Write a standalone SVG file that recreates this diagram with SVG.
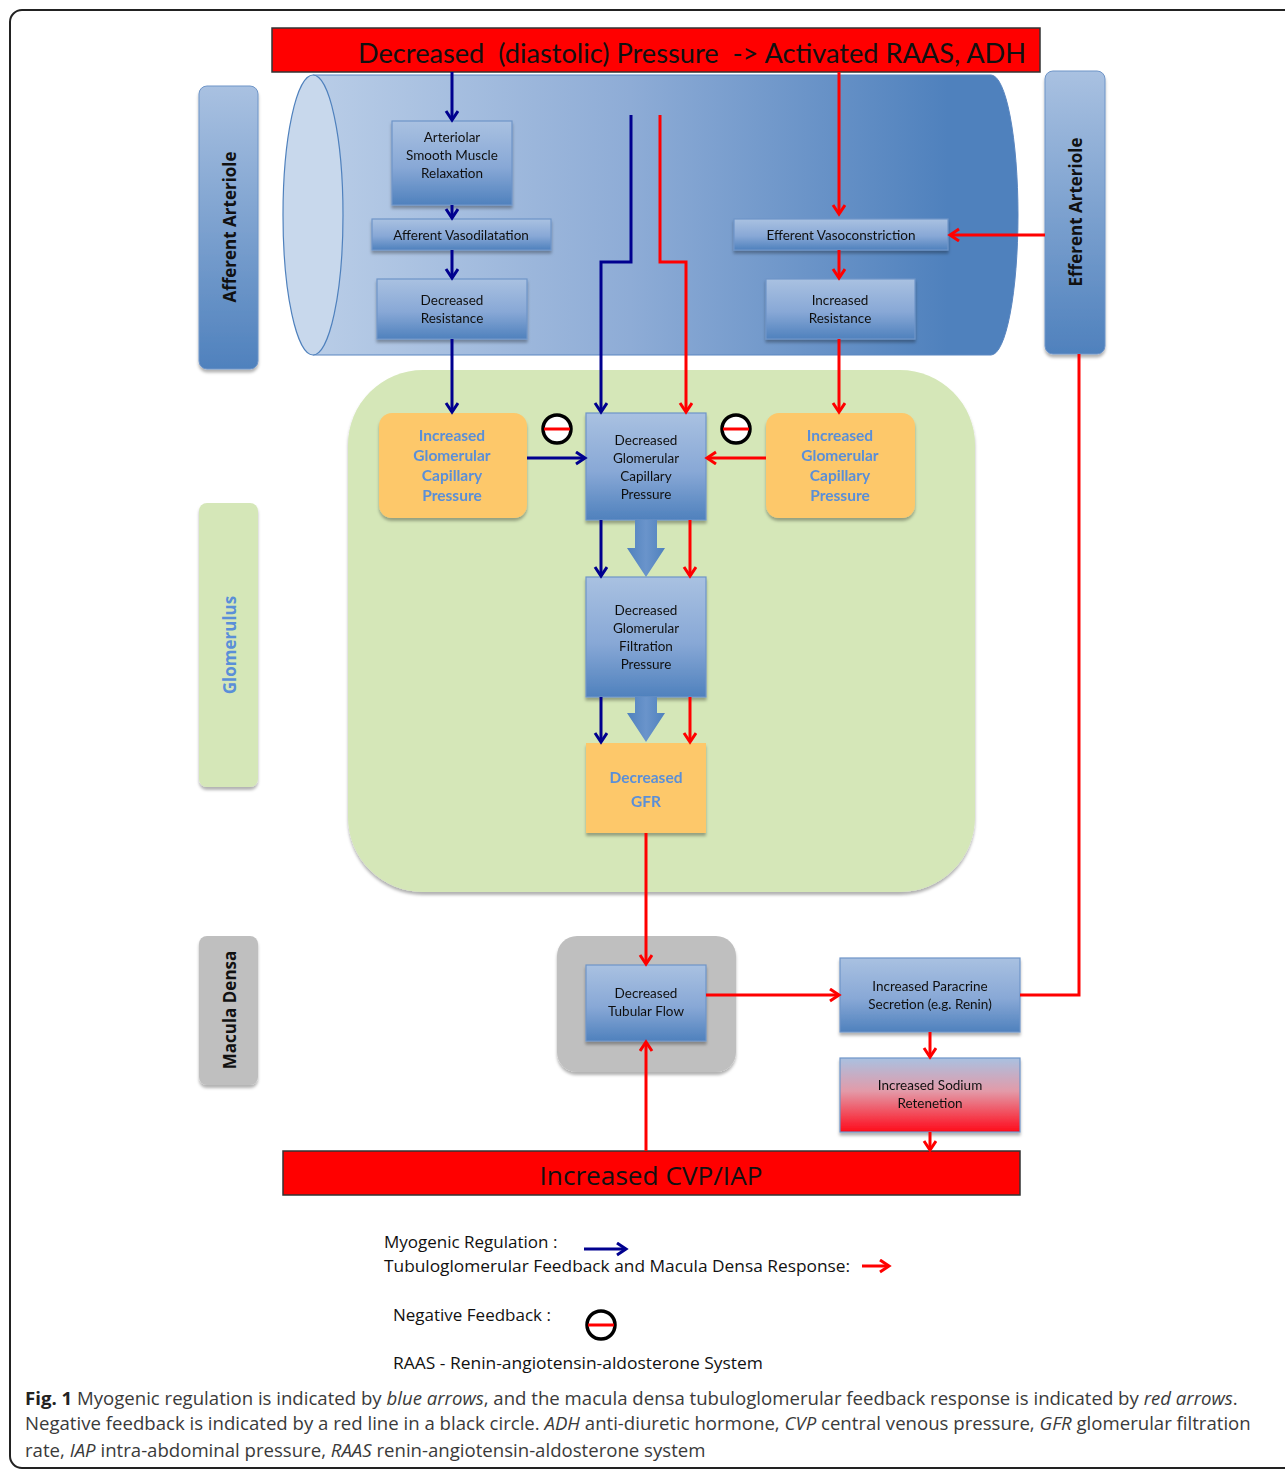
<svg xmlns="http://www.w3.org/2000/svg" width="1285" height="1470" viewBox="0 0 1285 1470">
<defs>
<style>
.node{font-family:Lato,"Open Sans","Liberation Sans",sans-serif;font-size:13.5px;fill:#111;text-anchor:middle}
.onode{font-family:Lato,"Open Sans","Liberation Sans",sans-serif;font-size:15.5px;font-weight:bold;fill:#5a8fd8;text-anchor:middle}
.side{font-family:"Open Sans","Liberation Sans",sans-serif;font-size:17px;font-weight:bold;text-anchor:middle}
.leg{font-family:"Open Sans",Lato,"Liberation Sans",sans-serif;font-size:17px;fill:#111}
.cap{font-family:"Open Sans","Liberation Sans",sans-serif;font-size:18.6px;fill:#3a3a3a}
.bl{stroke:#00008f;stroke-width:3;fill:none}
.rd{stroke:#ff0000;stroke-width:3;fill:none}
.bbox{fill:url(#gBlue);stroke:#6f95c8;stroke-width:1.2}
</style>
<linearGradient id="gBlue" x1="0" y1="0" x2="0" y2="1">
<stop offset="0" stop-color="#a9c1e1"/><stop offset="0.55" stop-color="#88a8d6"/><stop offset="1" stop-color="#4f81bd"/>
</linearGradient>
<linearGradient id="gSide" x1="0" y1="0" x2="0" y2="1">
<stop offset="0" stop-color="#a9c1e1"/><stop offset="1" stop-color="#4f81bd"/>
</linearGradient>
<linearGradient id="gCyl" x1="0" y1="0" x2="1" y2="0">
<stop offset="0" stop-color="#b9cde7"/><stop offset="0.45" stop-color="#8eacd6"/><stop offset="0.9" stop-color="#4f81bd"/><stop offset="1" stop-color="#4f81bd"/>
</linearGradient>
<linearGradient id="gSod" x1="0" y1="0" x2="0" y2="1">
<stop offset="0" stop-color="#a9c1e1"/><stop offset="0.45" stop-color="#e39aa8"/><stop offset="1" stop-color="#ff0a1a"/>
</linearGradient>
<linearGradient id="gBlk" x1="0" y1="0" x2="1" y2="0">
<stop offset="0" stop-color="#4f81bd"/><stop offset="0.5" stop-color="#6a94cb"/><stop offset="1" stop-color="#4f81bd"/>
</linearGradient>
<filter id="sh" x="-10%" y="-10%" width="120%" height="130%">
<feDropShadow dx="0" dy="3" stdDeviation="1.5" flood-color="#000" flood-opacity="0.3"/>
</filter>
<marker id="ab" markerUnits="userSpaceOnUse" markerWidth="16" markerHeight="16" refX="11" refY="7" orient="auto">
<path d="M2,1 L11,7 L2,13" fill="none" stroke="#00008f" stroke-width="3"/>
</marker>
<marker id="ar" markerUnits="userSpaceOnUse" markerWidth="16" markerHeight="16" refX="11" refY="7" orient="auto">
<path d="M2,1 L11,7 L2,13" fill="none" stroke="#ff0000" stroke-width="3"/>
</marker>
<g id="inh">
<circle r="14" fill="#fff" stroke="#000" stroke-width="3.5"/>
<line x1="-13" y1="0" x2="13" y2="0" stroke="#ff0000" stroke-width="3"/>
</g>
</defs>

<rect x="0" y="0" width="1285" height="1470" fill="#fff"/>
<rect x="10" y="10" width="1300" height="1458" rx="12" fill="none" stroke="#222" stroke-width="2"/>

<!-- background regions -->
<g id="cylinder">
<path d="M313,75 H991 A27,140 0 0 1 991,355 H313 Z" fill="url(#gCyl)" stroke="#5a86c0" stroke-width="1"/>
<ellipse cx="313" cy="215" rx="30" ry="140" fill="#c8d8ec" stroke="#4f81bd" stroke-width="1.2"/>
</g>
<g id="glomerulus-area">
<rect x="348" y="370" width="627" height="522" rx="75" fill="#d5e7b8" filter="url(#sh)"/>
</g>
<g id="macula-area">
<rect x="557" y="936" width="179" height="136" rx="20" fill="#bfbfbf" filter="url(#sh)"/>
</g>

<!-- side labels -->
<g id="afferent-arteriole">
<rect x="199" y="86" width="59" height="283" rx="8" fill="url(#gSide)" stroke="#6f95c8" filter="url(#sh)"/>
<text class="side" transform="translate(236,227) rotate(-90)" fill="#111">Afferent Arteriole</text>
</g>
<g id="efferent-arteriole">
<rect x="1045" y="71" width="60" height="283" rx="8" fill="url(#gSide)" stroke="#6f95c8" filter="url(#sh)"/>
<text class="side" transform="translate(1082,212) rotate(-90)" fill="#111">Efferent Arteriole</text>
</g>
<g id="glomerulus-label">
<rect x="199" y="503" width="59" height="284" rx="8" fill="#d5e7b8" filter="url(#sh)"/>
<text class="side" transform="translate(236,645) rotate(-90)" fill="#5a8fd8">Glomerulus</text>
</g>
<g id="macula-densa-label">
<rect x="199" y="936" width="59" height="149" rx="8" fill="#bfbfbf" filter="url(#sh)"/>
<text class="side" transform="translate(236,1010) rotate(-90)" fill="#111">Macula Densa</text>
</g>

<!-- top and bottom bars -->
<g id="top-bar">
<rect x="272" y="28" width="768" height="44" fill="#ff0000" stroke="#333" stroke-width="1.5"/>
<text x="358" y="63" xml:space="preserve" font-family="Lato,'Open Sans','Liberation Sans',sans-serif" font-size="27" fill="#111" textLength="668" lengthAdjust="spacingAndGlyphs">Decreased  (diastolic) Pressure  -&gt; Activated RAAS, ADH</text>
</g>
<g id="bottom-bar">
<rect x="283" y="1151" width="737" height="44" fill="#ff0000" stroke="#333" stroke-width="1.5"/>
<text x="651" y="1185" text-anchor="middle" font-family="'Open Sans',Lato,'Liberation Sans',sans-serif" font-size="26" fill="#111" textLength="223" lengthAdjust="spacingAndGlyphs">Increased CVP/IAP</text>
</g>

<!-- nodes -->
<g id="n-smooth-muscle" filter="url(#sh)">
<rect class="bbox" x="392" y="121" width="120" height="84"/>
<text class="node" x="452" y="142">Arteriolar</text>
<text class="node" x="452" y="160">Smooth Muscle</text>
<text class="node" x="452" y="178">Relaxation</text>
</g>
<g id="n-aff-vasodil" filter="url(#sh)">
<rect class="bbox" x="372" y="219" width="179" height="31"/>
<text class="node" x="461" y="240">Afferent Vasodilatation</text>
</g>
<g id="n-dec-res" filter="url(#sh)">
<rect class="bbox" x="377" y="279" width="150" height="60"/>
<text class="node" x="452" y="305">Decreased</text>
<text class="node" x="452" y="323">Resistance</text>
</g>
<g id="n-eff-vasocon" filter="url(#sh)">
<rect class="bbox" x="734" y="219" width="214" height="31"/>
<text class="node" x="841" y="240">Efferent Vasoconstriction</text>
</g>
<g id="n-inc-res" filter="url(#sh)">
<rect class="bbox" x="766" y="279" width="149" height="60"/>
<text class="node" x="840" y="305">Increased</text>
<text class="node" x="840" y="323">Resistance</text>
</g>
<g id="n-inc-gcp-left" filter="url(#sh)">
<rect x="379" y="413" width="148" height="105" rx="13" fill="#fdc86b"/>
<text class="onode" x="452" y="441">Increased</text>
<text class="onode" x="452" y="461">Glomerular</text>
<text class="onode" x="452" y="481">Capillary</text>
<text class="onode" x="452" y="501">Pressure</text>
</g>
<g id="n-inc-gcp-right" filter="url(#sh)">
<rect x="766" y="413" width="149" height="105" rx="13" fill="#fdc86b"/>
<text class="onode" x="840" y="441">Increased</text>
<text class="onode" x="840" y="461">Glomerular</text>
<text class="onode" x="840" y="481">Capillary</text>
<text class="onode" x="840" y="501">Pressure</text>
</g>
<g id="n-dec-gcp" filter="url(#sh)">
<rect class="bbox" x="586" y="413" width="120" height="107"/>
<text class="node" x="646" y="445">Decreased</text>
<text class="node" x="646" y="463">Glomerular</text>
<text class="node" x="646" y="481">Capillary</text>
<text class="node" x="646" y="499">Pressure</text>
</g>
<g id="n-dec-gfp" filter="url(#sh)">
<rect class="bbox" x="586" y="577" width="120" height="120"/>
<text class="node" x="646" y="615">Decreased</text>
<text class="node" x="646" y="633">Glomerular</text>
<text class="node" x="646" y="651">Filtration</text>
<text class="node" x="646" y="669">Pressure</text>
</g>
<g id="n-dec-gfr" filter="url(#sh)">
<rect x="586" y="743" width="120" height="90" fill="#fdc86b"/>
<text class="onode" x="646" y="783" font-size="18.5">Decreased</text>
<text class="onode" x="646" y="807" font-size="18.5">GFR</text>
</g>
<g id="n-dec-tub" filter="url(#sh)">
<rect class="bbox" x="586" y="965" width="120" height="76"/>
<text class="node" x="646" y="998">Decreased</text>
<text class="node" x="646" y="1016">Tubular Flow</text>
</g>
<g id="n-paracrine" filter="url(#sh)">
<rect class="bbox" x="840" y="958" width="180" height="74"/>
<text class="node" x="930" y="991">Increased Paracrine</text>
<text class="node" x="930" y="1009">Secretion (e.g. Renin)</text>
</g>
<g id="n-sodium" filter="url(#sh)">
<rect x="840" y="1058" width="180" height="74" fill="url(#gSod)" stroke="#6f95c8" stroke-width="1.2"/>
<text class="node" x="930" y="1090">Increased Sodium</text>
<text class="node" x="930" y="1108">Retenetion</text>
</g>

<!-- connectors -->
<g id="connectors">
<path d="M635,520 V548 H627 L646,577 L665,548 H657 V520 Z" fill="url(#gBlk)"/>
<path d="M635,697 V713 H627 L646,742 L665,713 H657 V697 Z" fill="url(#gBlk)"/>

<line class="bl" x1="452" y1="72" x2="452" y2="120" marker-end="url(#ab)"/>
<line class="bl" x1="452" y1="205" x2="452" y2="218" marker-end="url(#ab)"/>
<line class="bl" x1="452" y1="250" x2="452" y2="278" marker-end="url(#ab)"/>
<line class="bl" x1="452" y1="339" x2="452" y2="412" marker-end="url(#ab)"/>
<path class="bl" d="M631,115 V262 H601 V412" marker-end="url(#ab)"/>
<path class="rd" d="M660,115 V262 H686 V412" marker-end="url(#ar)"/>
<line class="rd" x1="839" y1="72" x2="839" y2="214" marker-end="url(#ar)"/>
<line class="rd" x1="839" y1="250" x2="839" y2="278" marker-end="url(#ar)"/>
<line class="rd" x1="839" y1="339" x2="839" y2="412" marker-end="url(#ar)"/>
<line class="rd" x1="1045" y1="235" x2="950" y2="235" marker-end="url(#ar)"/>
<line class="bl" x1="527" y1="458" x2="585" y2="458" marker-end="url(#ab)"/>
<line class="rd" x1="766" y1="458" x2="707" y2="458" marker-end="url(#ar)"/>
<line class="bl" x1="601" y1="520" x2="601" y2="576" marker-end="url(#ab)"/>
<line class="rd" x1="690" y1="520" x2="690" y2="576" marker-end="url(#ar)"/>
<line class="bl" x1="601" y1="697" x2="601" y2="742" marker-end="url(#ab)"/>
<line class="rd" x1="690" y1="697" x2="690" y2="742" marker-end="url(#ar)"/>
<line class="rd" x1="646" y1="833" x2="646" y2="964" marker-end="url(#ar)"/>
<line class="rd" x1="706" y1="995" x2="839" y2="995" marker-end="url(#ar)"/>
<path class="rd" d="M1020,995 H1079 V354"/>
<line class="rd" x1="930" y1="1032" x2="930" y2="1057" marker-end="url(#ar)"/>
<line class="rd" x1="930" y1="1132" x2="930" y2="1150" marker-end="url(#ar)"/>
<line class="rd" x1="646" y1="1151" x2="646" y2="1042" marker-end="url(#ar)"/>
<use href="#inh" x="557" y="429"/>
<use href="#inh" x="736" y="429"/>
</g>

<!-- legend -->
<g id="legend">
<text class="leg" x="384" y="1248">Myogenic Regulation :</text>
<line class="bl" x1="584" y1="1249" x2="626" y2="1249" marker-end="url(#ab)"/>
<text class="leg" x="384" y="1272" textLength="466" lengthAdjust="spacingAndGlyphs">Tubuloglomerular Feedback and Macula Densa Response:</text>
<line class="rd" x1="862" y1="1266" x2="889" y2="1266" marker-end="url(#ar)"/>
<text class="leg" x="393" y="1321">Negative Feedback :</text>
<use href="#inh" x="601" y="1325"/>
<text class="leg" x="393" y="1369" textLength="370" lengthAdjust="spacingAndGlyphs">RAAS - Renin-angiotensin-aldosterone System</text>
</g>

<!-- caption -->
<g id="caption">
<text class="cap" x="25" y="1405"><tspan font-weight="bold" fill="#222">Fig. 1</tspan> Myogenic regulation is indicated by <tspan font-style="italic">blue arrows</tspan>, and the macula densa tubuloglomerular feedback response is indicated by <tspan font-style="italic">red arrows</tspan>.</text>
<text class="cap" x="25" y="1430">Negative feedback is indicated by a red line in a black circle. <tspan font-style="italic">ADH</tspan> anti-diuretic hormone, <tspan font-style="italic">CVP</tspan> central venous pressure, <tspan font-style="italic">GFR</tspan> glomerular filtration</text>
<text class="cap" x="25" y="1457">rate, <tspan font-style="italic">IAP</tspan> intra-abdominal pressure, <tspan font-style="italic">RAAS</tspan> renin-angiotensin-aldosterone system</text>
</g>
</svg>
